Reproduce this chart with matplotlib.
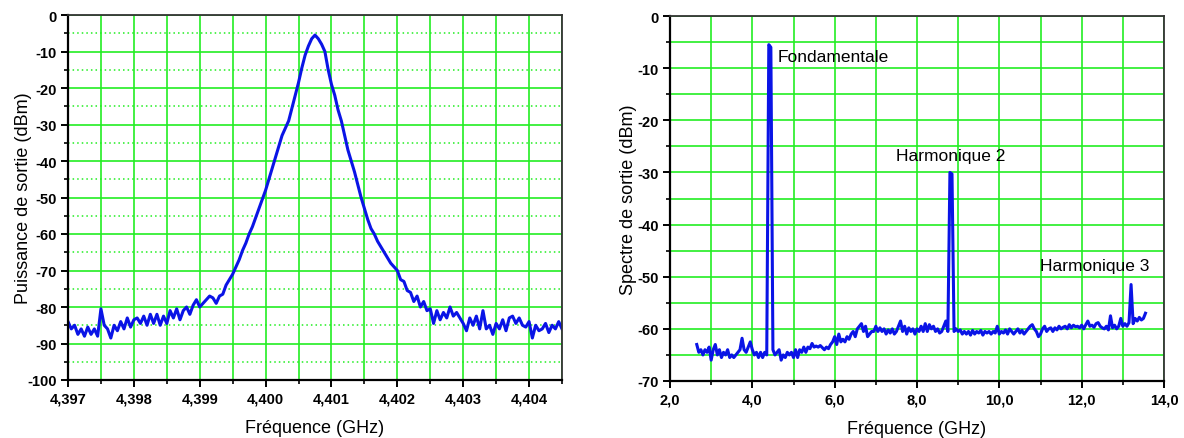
import numpy as np
import matplotlib
matplotlib.use("Agg")
import matplotlib.pyplot as plt
from matplotlib.ticker import MultipleLocator

plt.rcParams['font.family'] = ['Liberation Sans', 'DejaVu Sans']

# ---------------- Data: left panel (zoom on fundamental) ----------------
f_zoom_start = 4.397
f_zoom_stop = 4.4045
puissance = [
    -84, -86, -85, -87.5, -86, -88, -85.5, -87.5, -86, -88,
    -80.5, -85, -86, -88.5, -85, -86.5, -84, -86, -83, -85.5,
    -83.5, -83, -84.5, -82.5, -85, -82, -84.5, -82, -85, -82.5,
    -84.5, -81, -83, -80.5, -83.5, -81, -80, -82, -79.5, -78,
    -80, -79, -78, -77, -77.5, -79, -77, -76.5, -74, -72.5,
    -71, -69, -67, -64.5, -62.5, -60, -58, -55.5, -53, -50.5,
    -48, -45, -42, -39, -36, -33, -31, -29, -25.5, -22,
    -18.5, -14.5, -11, -8.5, -6.5, -5.5, -6.5, -8, -10, -15,
    -19, -22, -26, -29, -33, -37, -40, -43, -46.5, -50,
    -53, -56, -58.5, -60, -62, -63.5, -65, -66.5, -68, -69,
    -70, -72.5, -73, -75.5, -76, -78.5, -77, -80, -78.5, -81,
    -80.5, -84.5, -81, -83.5, -81.5, -83, -80, -82.5, -81.5, -83,
    -84.5, -86.5, -83, -85, -82.5, -86, -81, -86, -85, -87.5,
    -84.5, -86, -83.5, -86.5, -83, -82.5, -84.5, -83, -85, -85.5,
    -84, -88.5, -85, -86.5, -86, -84.5, -87, -85, -86, -84,
    -86,
]
xticks_left = [4.397, 4.398, 4.399, 4.400, 4.401, 4.402, 4.403, 4.404]
xticklabels_left = ["4,397", "4,398", "4,399", "4,400", "4,401", "4,402", "4,403", "4,404"]
yticks_left = [0, -10, -20, -30, -40, -50, -60, -70, -80, -90, -100]

# ---------------- Data: right panel (wide spectrum) ----------------
f_span_start = 2.65
f_span_stop = 13.55
spectre = [
    -63, -64.5, -64, -65, -64, -64.5, -63.5, -66, -64, -63,
    -65, -64, -65.5, -64.5, -65, -64, -65.5, -65, -65.5, -65,
    -64.5, -64, -61.8, -64, -64.5, -63.5, -62.5, -64, -65, -64.5,
    -65.5, -64.5, -65.5, -64.5, -65, -5.5, -6.0, -64, -65, -64.5,
    -64, -66, -65, -65.5, -64.5, -65, -64.5, -65.5, -64, -65.5,
    -64, -64.5, -63.5, -64.5, -63.5, -63.8, -62.8, -63.5, -63.3, -63.5,
    -63.2, -63.6, -64, -63.5, -63.8, -63, -62.5, -61.5, -63, -61,
    -62.5, -62, -62.5, -61.5, -62, -61, -60.5, -61.5, -60, -59.5,
    -59, -60.5, -59.5, -61.5, -61, -60.5, -60.5, -59.5, -60.5, -59.8,
    -60.5, -60, -61, -60.2, -60.8, -60, -61, -60.5, -59.5, -58.5,
    -60.5, -59.5, -61, -59.8, -60.5, -60, -61, -60, -60.5, -59.5,
    -60.5, -59, -60.5, -59.2, -60, -59.5, -60.5, -60, -60.8, -60.5,
    -59.5, -58.5, -60.5, -30, -30.3, -60.5, -60, -60.5, -60.2, -61,
    -60.5, -61, -60.5, -61.2, -60.3, -61, -60.5, -60.8, -60.3, -61.2,
    -60.5, -60.8, -60.5, -61, -60.5, -60.8, -59.5, -61, -60.5, -60.8,
    -60.2, -61, -60, -60.5, -61, -60.5, -60, -60.8, -60.3, -61,
    -60.5, -60, -59.5, -59.2, -60, -60.5, -61.5, -61, -60, -59.5,
    -60.5, -60, -59.8, -60.5, -59.8, -60.2, -59.5, -60, -59.7, -59.5,
    -60, -59.2, -59.8, -59.3, -59.6, -59.5, -59.8, -59.3, -60, -59.2,
    -58.5, -59.5, -59.3, -59.7, -59, -58.8, -59.5, -59.8, -60, -59.5,
    -60.2, -57.5, -59.8, -59.3, -60, -59.5, -58, -59.5, -59, -59.5,
    -58.8, -51.5, -59, -58, -58.5, -57.8, -58.3, -58, -57,
]
xticks_right = [2, 4, 6, 8, 10, 12, 14]
xticklabels_right = ["2,0", "4,0", "6,0", "8,0", "10,0", "12,0", "14,0"]
yticks_right = [0, -10, -20, -30, -40, -50, -60, -70]
annotations = ["Fondamentale", "Harmonique 2", "Harmonique 3"]
annot_x = [4.62, 7.48, 10.98]
annot_y = [-7.8, -26.8, -47.8]

freq_zoom = np.linspace(f_zoom_start, f_zoom_stop, len(puissance))
freq_span = np.linspace(f_span_start, f_span_stop, len(spectre))

GREEN = '#22ee22'
BLUE = '#0a14e6'
W, H = 1184, 439
fig = plt.figure(figsize=(W / 100, H / 100), dpi=100)

def px_axes(x0, x1, y0, y1):
    return fig.add_axes([x0 / W, 1 - y1 / H, (x1 - x0) / W, (y1 - y0) / H])

ax1 = px_axes(68, 562, 16, 381)
ax2 = px_axes(670, 1164, 17, 382)

def style(ax):
    for s in ax.spines.values():
        s.set_linewidth(1.6)
        s.set_color('black')
        s.set_zorder(5)
    for s in ('top', 'right'):
        ax.spines[s].set_color('#333333')
        ax.spines[s].set_linewidth(1.3)
    ax.tick_params(which='major', direction='out', length=5, width=1.4,
                   labelsize=10.5, top=False, right=False, pad=3)
    ax.tick_params(which='minor', direction='out', length=3, width=1.2,
                   top=False, right=False)
    for lab in ax.get_xticklabels() + ax.get_yticklabels():
        lab.set_fontweight('bold')
    ax.set_axisbelow(True)

# ---- Left panel ----
ax1.plot(freq_zoom, puissance, color=BLUE, lw=2.2, zorder=3)
ax1.set_xlim(f_zoom_start, f_zoom_stop)
ax1.set_ylim(-100, 0)
ax1.set_xticks(xticks_left)
ax1.set_xticklabels(xticklabels_left)
ax1.xaxis.set_minor_locator(MultipleLocator(0.0005))
ax1.set_yticks(yticks_left)
ax1.set_yticklabels([str(v) for v in yticks_left])
ax1.yaxis.set_minor_locator(MultipleLocator(5))
ax1.grid(True, which='major', axis='both', color=GREEN, lw=1.2, ls='-')
ax1.grid(True, which='minor', axis='x', color=GREEN, lw=1.2, ls='-')
ax1.grid(True, which='minor', axis='y', color=GREEN, lw=1.1, ls=(0, (1, 2)))
style(ax1)
ax1.set_xlabel("Fréquence (GHz)", fontsize=13, labelpad=10)
ax1.set_ylabel("Puissance de sortie (dBm)", fontsize=13, labelpad=-3)

# ---- Right panel ----
ax2.plot(freq_span, spectre, color=BLUE, lw=2.2, zorder=3)
ax2.set_xlim(2, 14)
ax2.set_ylim(-70, 0)
ax2.set_xticks(xticks_right)
ax2.set_xticklabels(xticklabels_right)
ax2.xaxis.set_minor_locator(MultipleLocator(1))
ax2.set_yticks(yticks_right)
ax2.set_yticklabels([str(v) for v in yticks_right])
ax2.yaxis.set_minor_locator(MultipleLocator(5))
ax2.grid(True, which='both', axis='both', color=GREEN, lw=1.2, ls='-')
style(ax2)
ax2.set_xlabel("Fréquence (GHz)", fontsize=13, labelpad=10)
ax2.set_ylabel("Spectre de sortie (dBm)", fontsize=13, labelpad=0)
for txt, xx, yy in zip(annotations, annot_x, annot_y):
    ax2.text(xx, yy, txt, fontsize=12.5, ha='left', va='center', zorder=6)

fig.savefig("out.png", dpi=100)
